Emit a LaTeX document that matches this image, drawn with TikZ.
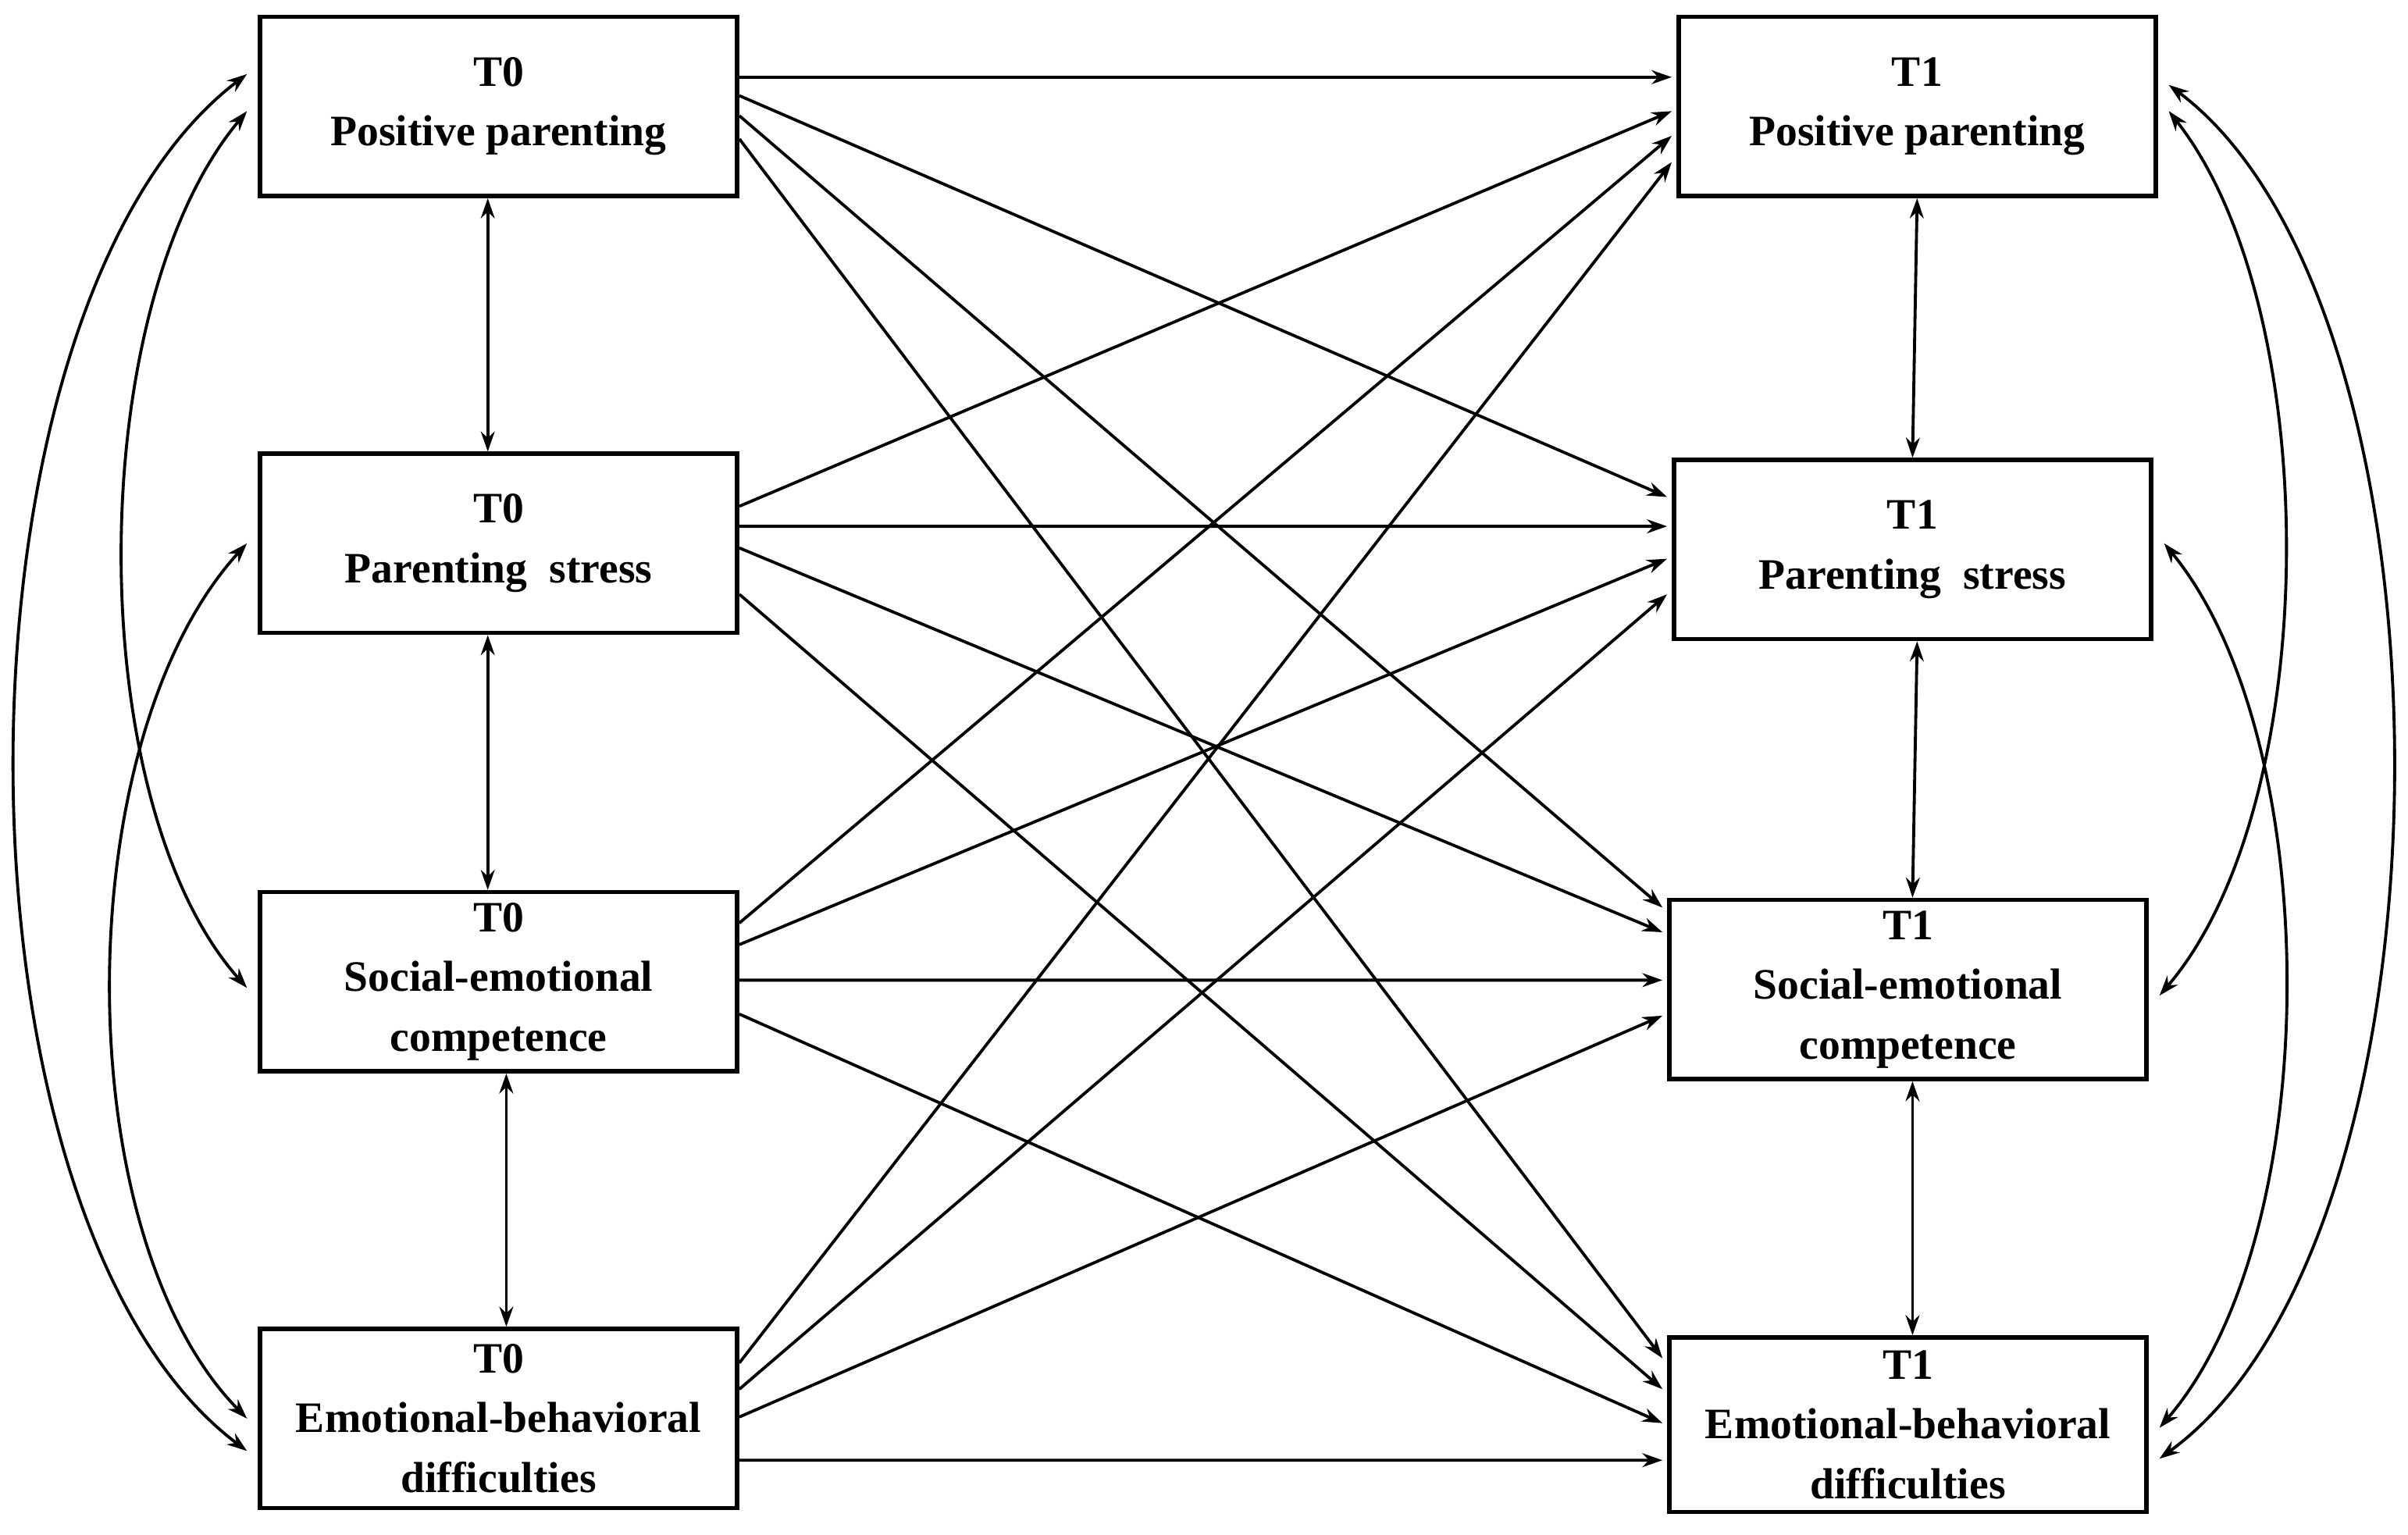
\documentclass[tikz,border=0pt]{standalone}
\usepackage{fontspec}
\setmainfont{Liberation Serif}
\usetikzlibrary{arrows.meta}

\begin{document}
\begin{tikzpicture}[
        x=0.01cm, y=-0.01cm,
        box/.style={draw, line width=0.8pt, minimum width=3.09cm, minimum height=1.16cm,
            align=center, font=\fontsize{8}{11}\selectfont\bfseries, inner sep=1pt},
        arr/.style={-{Stealth[length=1.3mm,width=0.9mm]}, line width=0.55pt},
        dbl/.style={{Stealth[length=1.3mm,width=0.9mm]}-{Stealth[length=1.3mm,width=0.9mm]}, line width=0.55pt}
    ]
        \useasboundingbox (0,0) rectangle (1560,994);
        % time 0
        \node[box] (pp0) at (323,69) {T0\\Positive parenting};
        \node[box] (ps0) at (323,352) {T0\\Parenting\ \ stress};
        \node[box] (sec0) at (323,636) {T0\\Social-emotional\\competence};
        \node[box] (ebd0) at (323,919) {T0\\Emotional-behavioral\\difficulties};
        % time 1
        \node[box] (pp1) at (1242,69) {T1\\Positive parenting};
        \node[box] (ps1) at (1239,356) {T1\\Parenting\ \ stress};
        \node[box] (sec1) at (1236,641) {T1\\Social-emotional\\competence};
        \node[box, minimum height=1.13cm] (ebd1) at (1236,923) {T1\\Emotional-behavioral\\difficulties};

        % within-time correlations
        \draw[dbl] ([xshift=-0.07cm]pp0.south) -- ([xshift=-0.07cm]ps0.north);
        \draw[dbl] ([xshift=-0.07cm]ps0.south) -- ([xshift=-0.07cm]sec0.north);
        \draw[dbl] ([xshift=0.05cm]sec0.south) -- ([xshift=0.05cm]ebd0.north);
        \draw[dbl] (pp1.south) -- (ps1.north);
        \draw[dbl] ([xshift=0.03cm]ps1.south) -- ([xshift=0.03cm]sec1.north);
        \draw[dbl] ([xshift=0.03cm]sec1.south) -- ([xshift=0.03cm]ebd1.north);

        % cross-lagged paths
        \draw[arr] ([yshift=0.19cm]pp0.east) -- ([yshift=0.19cm,xshift=-0.03cm]pp1.west);
        \draw[arr] ([yshift=0.07cm]pp0.east) -- ([yshift=0.34cm,xshift=-0.03cm]ps1.west);
        \draw[arr] ([yshift=-0.06cm]pp0.east) -- ([yshift=0.53cm,xshift=-0.03cm]sec1.west);
        \draw[arr] ([yshift=-0.21cm]pp0.east) -- ([yshift=0.43cm,xshift=-0.03cm]ebd1.west);

        \draw[arr] ([yshift=0.24cm]ps0.east) -- ([yshift=-0.03cm,xshift=-0.03cm]pp1.west);
        \draw[arr] ([yshift=0.11cm]ps0.east) -- ([yshift=0.15cm,xshift=-0.03cm]ps1.west);
        \draw[arr] ([yshift=-0.03cm]ps0.east) -- ([yshift=0.37cm,xshift=-0.03cm]sec1.west);
        \draw[arr] ([yshift=-0.33cm]ps0.east) -- ([yshift=0.23cm,xshift=-0.03cm]ebd1.west);

        \draw[arr] ([yshift=0.38cm]sec0.east) -- ([yshift=-0.19cm,xshift=-0.03cm]pp1.west);
        \draw[arr] ([yshift=0.24cm]sec0.east) -- ([yshift=-0.06cm,xshift=-0.03cm]ps1.west);
        \draw[arr] ([yshift=0.01cm]sec0.east) -- ([yshift=0.06cm,xshift=-0.03cm]sec1.west);
        \draw[arr] ([yshift=-0.21cm]sec0.east) -- ([yshift=0.01cm,xshift=-0.03cm]ebd1.west);

        \draw[arr] ([yshift=0.36cm]ebd0.east) -- ([yshift=-0.36cm,xshift=-0.03cm]pp1.west);
        \draw[arr] ([yshift=0.19cm]ebd0.east) -- ([yshift=-0.29cm,xshift=-0.03cm]ps1.west);
        \draw[arr] ([yshift=0.01cm]ebd0.east) -- ([yshift=-0.17cm,xshift=-0.03cm]sec1.west);
        \draw[arr] ([yshift=-0.27cm]ebd0.east) -- ([yshift=-0.23cm,xshift=-0.03cm]ebd1.west);

        % curved correlations, left
        \draw[dbl] ([yshift=0.21cm,xshift=-0.07cm]pp0.west) .. controls (-40,200) and (-40,790) .. ([yshift=-0.21cm,xshift=-0.07cm]ebd0.west);
        \draw[dbl] ([yshift=-0.03cm,xshift=-0.07cm]pp0.west) .. controls (53,200) and (53,520) .. ([yshift=-0.04cm,xshift=-0.07cm]sec0.west);
        \draw[dbl] ([xshift=-0.07cm]ps0.west) .. controls (43,480) and (43,800) .. ([xshift=-0.07cm]ebd0.west);
        % curved correlations, right
        \draw[dbl] ([yshift=0.14cm,xshift=0.07cm]pp1.east) .. controls (1599,200) and (1599,800) .. ([yshift=-0.22cm,xshift=0.07cm]ebd1.east);
        \draw[dbl] ([yshift=-0.03cm,xshift=0.07cm]pp1.east) .. controls (1506,200) and (1506,520) .. ([yshift=-0.04cm,xshift=0.07cm]sec1.east);
        \draw[dbl] ([yshift=0.04cm,xshift=0.07cm]ps1.east) .. controls (1507,480) and (1507,800) .. ([yshift=-0.02cm,xshift=0.07cm]ebd1.east);
\end{tikzpicture}
\end{document}
